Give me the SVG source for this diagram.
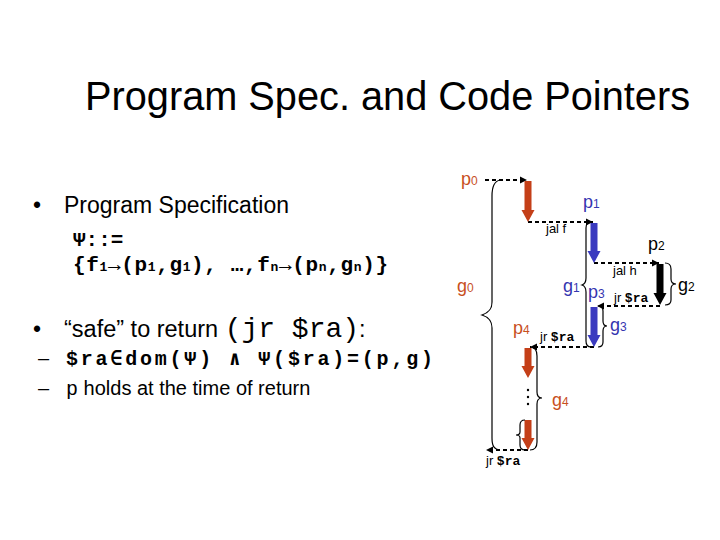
<svg xmlns="http://www.w3.org/2000/svg" width="720" height="540" viewBox="0 0 720 540">
<style>
.sans{font-family:"Liberation Sans",Arial,sans-serif}
.mono{font-family:"Liberation Mono","Courier New",monospace}
.b{font-weight:bold}
.org{fill:#c8501e}
.blu{fill:#3535b0}
.lbl{font-family:"Liberation Sans",Arial,sans-serif;font-size:18px}
.sm{font-family:"Liberation Sans",Arial,sans-serif;font-size:13px}
.smm{font-family:"Liberation Mono","Courier New",monospace;font-size:13px;font-weight:bold}
.dash{stroke:#000;stroke-width:2;stroke-dasharray:4 3;fill:none}
.brace{stroke:#000;stroke-width:1.2;fill:none}
.red{fill:#c43f18}
.bar{fill:#3a3abf}
</style>
<defs>
<marker id="ah" markerUnits="userSpaceOnUse" markerWidth="8" markerHeight="8" refX="7" refY="4" orient="auto">
<path d="M0,0.5 L7,4 L0,7.5 Z" fill="#000"/>
</marker>
</defs>
<rect width="720" height="540" fill="#fff"/>
<text x="85" y="110" class="sans" font-size="40" textLength="605" lengthAdjust="spacingAndGlyphs">Program Spec. and Code Pointers</text>
<g id="text-left">
<text x="33" y="213" class="sans" font-size="23">•</text>
<text x="64" y="213" class="sans" font-size="23">Program Specification</text>
<text x="73" y="246" class="mono b" font-size="21">Ψ::=</text>
<text x="73" y="271" class="mono b" font-size="21" textLength="315" lengthAdjust="spacing">{f<tspan font-size="13">1</tspan>→(p<tspan font-size="13">1</tspan>,g<tspan font-size="13">1</tspan>), …,f<tspan font-size="13">n</tspan>→(p<tspan font-size="13">n</tspan>,g<tspan font-size="13">n</tspan>)}</text>
<text x="33" y="337" class="sans" font-size="23">•</text>
<text x="64" y="337" class="sans" font-size="23.5">“safe” to return <tspan class="mono" font-size="28">(jr $ra)</tspan>:</text>
<text x="38" y="365" class="sans" font-size="20">–</text>
<text x="66" y="365" class="mono b" font-size="20" textLength="367" lengthAdjust="spacing">$ra∈dom(Ψ) ∧ Ψ($ra)=(p,g)</text>
<text x="38" y="395" class="sans" font-size="20">–</text>
<text x="66" y="395" class="sans" font-size="20"><tspan class="mono">p</tspan> holds at the time of return</text>
</g>
<g id="connectors">
<line x1="485" y1="180" x2="527" y2="180" class="dash" marker-end="url(#ah)"/>
<line x1="528" y1="222" x2="593" y2="222" class="dash" marker-end="url(#ah)"/>
<line x1="594" y1="263" x2="659" y2="263" class="dash" marker-end="url(#ah)"/>
<line x1="660" y1="306" x2="597" y2="306" class="dash" marker-end="url(#ah)"/>
<line x1="594" y1="347" x2="530" y2="347" class="dash" marker-end="url(#ah)"/>
<line x1="528" y1="450" x2="486" y2="450" class="dash" marker-end="url(#ah)"/>
</g>
<g id="p0">
<text x="461" y="185" class="lbl org">p<tspan font-size="12">0</tspan></text>
<path class="red" d="M524.5,181 H531.5 V210 H534.5 L528,222 L521.5,210 H524.5 Z"/>
<text x="546" y="233" class="sm">jal f</text>
</g>
<g id="p1">
<text x="583" y="208" class="lbl blu">p<tspan font-size="12">1</tspan></text>
<path class="bar" d="M590.5,223 H597.5 V251 H600.5 L594,263 L587.5,251 H590.5 Z"/>
<text x="613" y="275" class="sm">jal h</text>
</g>
<g id="p2">
<text x="648" y="250" class="lbl">p<tspan font-size="12">2</tspan></text>
<path fill="#000" d="M656.5,264 H663.5 V293 H666.5 L660,305 L653.5,293 H656.5 Z"/>
<text x="614" y="302" class="sm">jr <tspan class="smm">$ra</tspan></text>
<path class="brace" d="M665,263 C669,263 671,265 671,269 L671,279 C671,282 672,284 676,284 C672,284 671,286 671,289 L671,300 C671,303 669,305 665,305"/>
<text x="678" y="291" class="lbl">g<tspan font-size="12">2</tspan></text>
</g>
<g id="p3">
<text x="588" y="298" class="lbl blu">p<tspan font-size="12">3</tspan></text>
<path class="bar" d="M590.5,307 H597.5 V335 H600.5 L594,347 L587.5,335 H590.5 Z"/>
<text x="540" y="341" class="sm">jr <tspan class="smm">$ra</tspan></text>
<path class="brace" d="M598,306 C602,306 603,308 603,311 L603,321 C603,324 604,326 607,326 C604,326 603,328 603,331 L603,342 C603,345 602,347 598,347"/>
<text x="610" y="331" class="lbl blu">g<tspan font-size="12">3</tspan></text>
</g>
<g id="g1">
<path class="brace" d="M591,222 C587,222 586,224 586,228 L586,278 C586,282 585,284 582,285 C585,286 586,288 586,292 L586,341 C586,345 587,347 591,347"/>
<text x="563" y="292" class="lbl blu">g<tspan font-size="12">1</tspan></text>
</g>
<g id="p4">
<text x="513" y="334" class="lbl org">p<tspan font-size="12">4</tspan></text>
<path class="red" d="M524.5,348 H531.5 V366 H534.5 L528,378 L521.5,366 H524.5 Z"/>
<circle cx="528" cy="390" r="1.2" fill="#000"/>
<circle cx="528" cy="397" r="1.2" fill="#000"/>
<circle cx="528" cy="404" r="1.2" fill="#000"/>
<path class="red" d="M524.5,420 H531.5 V438 H534.5 L528,450 L521.5,438 H524.5 Z"/>
<path class="brace" d="M525,420 C521,420 520,422 520,425 L520,432 C520,434 519,435 516,435 C519,435 520,436 520,438 L520,445 C520,448 521,450 525,450"/>
<path class="brace" d="M530,347 C535,347 537,350 537,356 L537,392 C537,396 538,398 542,398 C538,398 537,400 537,404 L537,442 C537,447 535,450 530,450"/>
<text x="552" y="406" class="lbl org">g<tspan font-size="12">4</tspan></text>
<text x="486" y="465" class="sm">jr <tspan class="smm">$ra</tspan></text>
</g>
<g id="g0">
<path class="brace" d="M500,180 C495,181 492,186 492,196 L492,302 C492,310 488,313 482,315 C488,317 492,320 492,328 L492,438 C492,446 494,449 499,450"/>
<text x="457" y="292" class="lbl org">g<tspan font-size="12">0</tspan></text>
</g>
</svg>
